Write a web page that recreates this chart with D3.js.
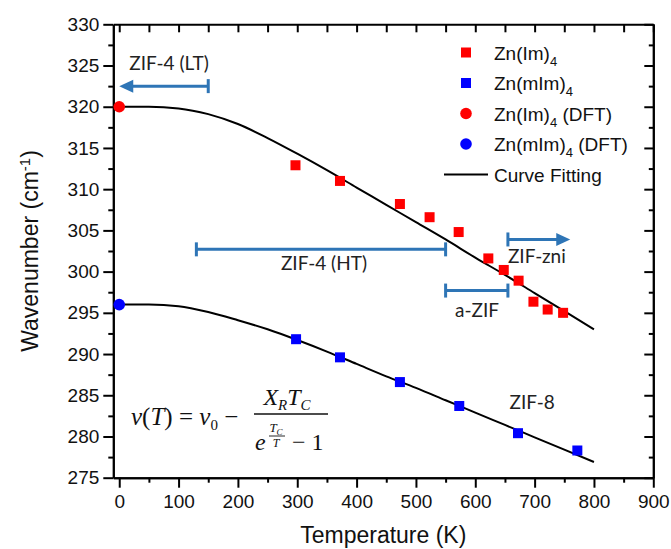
<!DOCTYPE html>
<html>
<head>
<meta charset="utf-8">
<script src="https://cdn.jsdelivr.net/npm/d3@7"></script>
<style>
  html, body { margin: 0; padding: 0; background: #fff; }
  svg { display: block; }
</style>
</head>
<body>
<svg id="chart" width="671" height="549"></svg>
<script>
// ---------- data ----------
const xTicks = [0, 100, 200, 300, 400, 500, 600, 700, 800, 900];
const xMinor = [50, 150, 250, 350, 450, 550, 650, 750, 850];
const yTicks = [275, 280, 285, 290, 295, 300, 305, 310, 315, 320, 325, 330];
const yMinor = [277.5, 282.5, 287.5, 292.5, 297.5, 302.5, 307.5, 312.5, 317.5, 322.5, 327.5];

const imT = [297, 372, 473, 523, 572, 622, 648, 673, 698, 722, 748];
const imV = [312.9, 311.0, 308.2, 306.6, 304.8, 301.6, 300.2, 298.9, 296.35, 295.4, 295.0];
const mImT = [298, 372, 473, 573, 672, 772];
const mImV = [291.8, 289.6, 286.6, 283.7, 280.4, 278.3];
const imDftT = [0];
const imDftV = [320];
const mImDftT = [0];
const mImDftV = [296];

const fitT = [0, 50, 100, 150, 200, 250, 300, 350, 400, 450, 500, 550, 600, 650, 700, 750, 800];
const fitIm = [320, 320, 319.8, 319.1, 317.9, 316.2, 314.3, 312.3, 310.2, 308.1, 306.0, 303.9, 301.7, 299.6, 297.4, 295.2, 293.0];
const fitmIm = [296, 296, 295.8, 295.1, 294.1, 293.0, 291.7, 290.3, 288.8, 287.3, 285.9, 284.4, 282.9, 281.4, 279.9, 278.4, 276.9];

const legendLabels = ["Zn(Im)", "Zn(mIm)", "Zn(Im)", "Zn(mIm)", "Curve Fitting"];
const legendSubs = ["4", "4", "4", "4", ""];
const legendSuffix = ["", "", " (DFT)", " (DFT)", ""];

const rangeLabels = ["ZIF-4 (LT)", "ZIF-4 (HT)", "a-ZIF", "ZIF-zni"];
const rangeStart = [150, 130, 550, 655];
const rangeEnd = [0, 550, 655, 760];
const rangeV = [322.5, 302.7, 297.7, 303.9];
const rangeLabelT = [84, 345, 603, 655];
const rangeLabelV = [324.5, 300.2, 294.5, 301.0];
const rangeEndArrow = [true, false, false, true];
const rangeAnchor = ["middle", "middle", "middle", "start"];

// ---------- chart ----------
const svg = d3.select("#chart");
const x = d3.scaleLinear().domain([-10, 900]).range([113.3, 653.3]);
const y = d3.scaleLinear().domain([275, 330]).range([477.7, 24.3]);

const tickFont = "'Liberation Sans', Arial, sans-serif";
const annoColor = "#2e75b6";

function styleAxis(g) {
  g.selectAll("path.domain").attr("stroke", "#000").attr("stroke-width", 2);
  g.selectAll(".tick line").attr("stroke", "#000").attr("stroke-width", 2);
  g.selectAll("text").attr("fill", "#111").style("font-family", tickFont).style("font-size", "19px");
}

svg.append("g").attr("transform", `translate(0,${y(275)})`)
  .call(d3.axisBottom(x).tickValues(xTicks).tickSize(10).tickSizeOuter(0).tickPadding(7).tickFormat(d3.format("d")))
  .call(styleAxis);
svg.append("g").attr("transform", `translate(0,${y(275)})`)
  .call(d3.axisBottom(x).tickValues(xMinor).tickSize(5).tickSizeOuter(0).tickFormat(""))
  .call(styleAxis);
svg.append("g").attr("transform", `translate(0,${y(330)})`)
  .call(d3.axisBottom(x).tickValues(xTicks.concat(xMinor)).tickSize(8).tickSizeOuter(0).tickFormat(""))
  .call(styleAxis);
svg.append("g").attr("transform", `translate(${x(-10)},0)`)
  .call(d3.axisLeft(y).tickValues(yTicks).tickSize(10).tickSizeOuter(0).tickPadding(4).tickFormat(d3.format("d")))
  .call(styleAxis);
svg.append("g").attr("transform", `translate(${x(-10)},0)`)
  .call(d3.axisLeft(y).tickValues(yMinor).tickSize(5).tickSizeOuter(0).tickFormat(""))
  .call(styleAxis);
svg.append("g").attr("transform", `translate(${x(900)},0)`)
  .call(d3.axisLeft(y).tickValues(yTicks).tickSize(9).tickSizeOuter(0).tickFormat(""))
  .call(styleAxis);
svg.append("g").attr("transform", `translate(${x(900)},0)`)
  .call(d3.axisLeft(y).tickValues(yMinor).tickSize(4.5).tickSizeOuter(0).tickFormat(""))
  .call(styleAxis);

svg.append("text")
  .attr("x", (x(-10) + x(900)) / 2).attr("y", 543)
  .attr("text-anchor", "middle")
  .style("font-family", tickFont).style("font-size", "23px").attr("fill", "#111")
  .text("Temperature (K)");

const yt = svg.append("text")
  .attr("transform", `translate(38,${(y(275) + y(330)) / 2}) rotate(-90)`)
  .attr("text-anchor", "middle")
  .style("font-family", tickFont).style("font-size", "23px").attr("fill", "#111");
yt.append("tspan").text("Wavenumber (cm");
yt.append("tspan").attr("dy", -8).style("font-size", "15px").text("-1");
yt.append("tspan").attr("dy", 8).text(")");

const line = d3.line().x(d => x(d[0])).y(d => y(d[1])).curve(d3.curveMonotoneX);
[fitIm, fitmIm].forEach(vals => {
  svg.append("path")
    .datum(fitT.map((t, i) => [t, vals[i]]))
    .attr("d", line)
    .attr("fill", "none").attr("stroke", "#000").attr("stroke-width", 2);
});

const sq = 10;
function squares(ts, vs, color) {
  svg.append("g").selectAll("rect").data(ts.map((t, i) => [t, vs[i]])).join("rect")
    .attr("x", d => x(d[0]) - sq / 2).attr("y", d => y(d[1]) - sq / 2)
    .attr("width", sq).attr("height", sq).attr("fill", color);
}
squares(imT, imV, "#ff0000");
squares(mImT, mImV, "#0000ff");
function circles(ts, vs, color) {
  svg.append("g").selectAll("circle").data(ts.map((t, i) => [t, vs[i]])).join("circle")
    .attr("cx", d => x(d[0])).attr("cy", d => y(d[1])).attr("r", 5.8).attr("fill", color);
}
circles(imDftT, imDftV, "#ff0000");
circles(mImDftT, mImDftV, "#0000ff");

const annoFont = "Lato, 'Open Sans', sans-serif";
rangeLabels.forEach((lab, i) => {
  const g = svg.append("g");
  const yy = y(rangeV[i]);
  const x0 = x(rangeStart[i]), x1 = x(rangeEnd[i]);
  const dir = Math.sign(x1 - x0);
  const lineEnd = rangeEndArrow[i] ? x1 - dir * 10 : x1;
  g.append("line").attr("x1", x0).attr("x2", lineEnd).attr("y1", yy).attr("y2", yy)
    .attr("stroke", annoColor).attr("stroke-width", 3);
  g.append("line").attr("x1", x0).attr("x2", x0).attr("y1", yy - 7).attr("y2", yy + 7)
    .attr("stroke", annoColor).attr("stroke-width", 3);
  if (rangeEndArrow[i]) {
    g.append("path")
      .attr("d", `M${x1},${yy} L${x1 - dir * 14},${yy - 6.5} L${x1 - dir * 14},${yy + 6.5} Z`)
      .attr("fill", annoColor);
  } else {
    g.append("line").attr("x1", x1).attr("x2", x1).attr("y1", yy - 7).attr("y2", yy + 7)
      .attr("stroke", annoColor).attr("stroke-width", 3);
  }
  g.append("text").attr("x", x(rangeLabelT[i])).attr("y", y(rangeLabelV[i]))
    .attr("text-anchor", rangeAnchor[i])
    .style("font-family", annoFont).style("font-size", "19px").attr("fill", "#222")
    .text(lab);
});

svg.append("text").attr("x", x(696)).attr("y", y(283.3)).attr("text-anchor", "middle")
  .style("font-family", annoFont).style("font-size", "19px").attr("fill", "#222").text("ZIF-8");

// equation
const eqFont = "'Liberation Serif', 'DejaVu Serif', serif";
const eq = svg.append("g").style("font-family", eqFont).attr("fill", "#111");
const e1 = eq.append("text").attr("x", 131).attr("y", 425).style("font-size", "25px");
e1.append("tspan").style("font-style", "italic").text("ν");
e1.append("tspan").text("(");
e1.append("tspan").style("font-style", "italic").text("T");
e1.append("tspan").text(") = ");
e1.append("tspan").style("font-style", "italic").text("ν");
e1.append("tspan").attr("dy", 5).style("font-size", "15px").text("0");
e1.append("tspan").attr("dy", -5).text(" −");
const num = eq.append("text").attr("x", 287).attr("y", 405).attr("text-anchor", "middle").style("font-size", "24px");
num.append("tspan").style("font-style", "italic").text("X");
num.append("tspan").attr("dy", 5).style("font-size", "15px").style("font-style", "italic").text("R");
num.append("tspan").attr("dy", -5).style("font-style", "italic").text("T");
num.append("tspan").attr("dy", 5).style("font-size", "15px").style("font-style", "italic").text("C");
eq.append("line").attr("x1", 254).attr("x2", 328).attr("y1", 414).attr("y2", 414)
  .attr("stroke", "#111").attr("stroke-width", 1.3);
eq.append("text").attr("x", 255).attr("y", 450).style("font-size", "24px").style("font-style", "italic").text("e");
const ex1 = eq.append("text").attr("x", 276).attr("y", 432).attr("text-anchor", "middle").style("font-size", "13px");
ex1.append("tspan").style("font-style", "italic").text("T");
ex1.append("tspan").attr("dy", 3).style("font-size", "9px").style("font-style", "italic").text("C");
eq.append("line").attr("x1", 269).attr("x2", 285).attr("y1", 436).attr("y2", 436)
  .attr("stroke", "#111").attr("stroke-width", 0.9);
eq.append("text").attr("x", 276).attr("y", 447).attr("text-anchor", "middle").style("font-size", "12px")
  .style("font-style", "italic").text("T");
eq.append("text").attr("x", 292).attr("y", 450).style("font-size", "24px").text("− 1");

// legend
const legX = 466, legY0 = 52.5, legDy = 30.5;
const leg = svg.append("g").style("font-family", tickFont).attr("fill", "#111");
legendLabels.forEach((lab, i) => {
  const cy = legY0 + i * legDy;
  if (i === 0 || i === 1) {
    leg.append("rect").attr("x", legX - 5).attr("y", cy - 5).attr("width", 10).attr("height", 10)
      .attr("fill", i === 0 ? "#ff0000" : "#0000ff");
  } else if (i === 2 || i === 3) {
    leg.append("circle").attr("cx", legX).attr("cy", cy).attr("r", 5.8)
      .attr("fill", i === 2 ? "#ff0000" : "#0000ff");
  } else {
    leg.append("line").attr("x1", 444).attr("x2", 488).attr("y1", cy).attr("y2", cy)
      .attr("stroke", "#000").attr("stroke-width", 2);
  }
  const t = leg.append("text").attr("x", 494).attr("y", cy + 7).style("font-size", "19px");
  t.append("tspan").text(lab);
  if (legendSubs[i]) {
    t.append("tspan").attr("dy", 6).style("font-size", "13px").text(legendSubs[i]);
    t.append("tspan").attr("dy", -6).text(legendSuffix[i]);
  }
});
</script>
</body>
</html>
